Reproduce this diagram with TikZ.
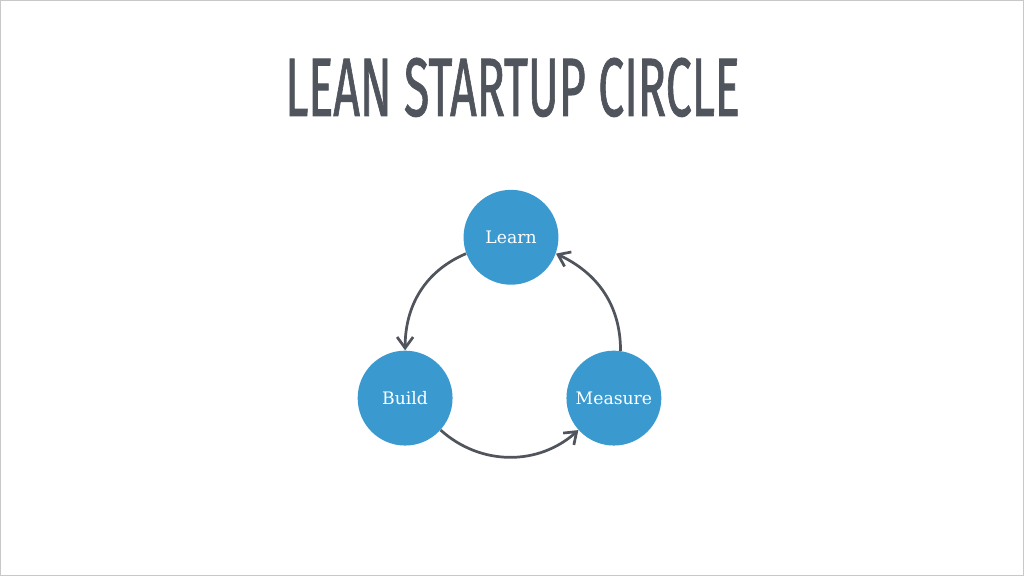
\documentclass[tikz,border=0pt]{standalone}
\usepackage{xcolor}
\usepackage{fontspec}
\usepackage{graphicx}
\usepackage{tikz}
\usetikzlibrary{arrows.meta,positioning,calc}
\setmainfont{DejaVu Serif}
\newfontfamily\titlefont[FakeBold=1.3]{Fira Sans}
\definecolor{stageblue}{RGB}{58, 154, 208}
\definecolor{darkgray}{RGB}{80, 84, 92}
\definecolor{framegray}{RGB}{200, 200, 200}
\tikzset{
  stage/.style={circle,fill=stageblue,minimum size=1.9cm,inner sep=0pt,
                text=white,font=\fontsize{9.8}{11}\selectfont},
  arr/.style={-{Straight Barb[length=2.2mm,width=3.2mm]},line width=1.55pt,
              draw=darkgray},
}

\begin{document}
\begin{tikzpicture}[x=0.02cm,y=0.02cm]
        \draw[framegray,line width=0.6pt,fill=white] (0,0) rectangle (1024,576);
        \useasboundingbox (0,0) rectangle (1024,576);
        \node[text=darkgray] (title) at (512.5,489)
          {\resizebox{9.1cm}{1.16cm}{\titlefont LEAN STARTUP CIRCLE}};
        \node[stage] (learn) at (511,339) {Learn};
        \node[stage] (build) at (405,178) {Build};
        \node[stage] (measure) at (614,178) {Measure};
        \draw[arr] (learn.200) to[out=203,in=90] (build.north);
        \draw[arr] (build.-42) to[out=-42,in=222] (measure.222);
        \draw[arr] (measure.82) to[out=90,in=-25] (learn.-20);
      \end{tikzpicture}
\end{document}
